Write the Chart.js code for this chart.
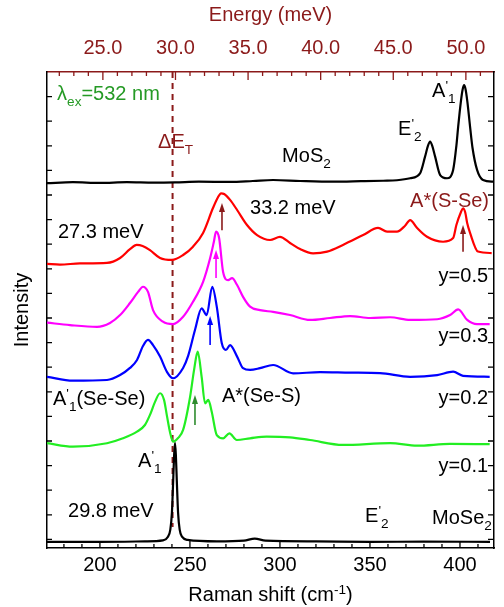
<!DOCTYPE html>
<html>
<head>
<meta charset="utf-8">
<script src="https://cdn.jsdelivr.net/npm/chart.js@4.4.0/dist/chart.umd.min.js"></script>
<style>
  html, body { margin: 0; padding: 0; background: #fff; }
  #wrap { width: 504px; height: 607px; }
</style>
</head>
<body>
<div id="wrap"><canvas id="chartRaman" width="504" height="607"></canvas></div>
<script>
// axis ranges (Raman shift in cm-1, stacked intensity in arb. units)
const X_MIN = 170.6, X_MAX = 418.9;
const Y_MIN = -0.35, Y_MAX = 19;
const CM_PER_MEV = 8.0655;
const DASH_ENERGY = 29.8; // meV, the dashed ΔE_T line

// tick labels
const shiftTicks = [200, 250, 300, 350, 400];
const energyTicks = [25, 30, 35, 40, 45, 50];

// spectra: Raman shift (cm-1) and intensity above each trace's offset
const shiftMoS2 = [170.6, 185, 200, 215, 230, 241.7, 255, 272.3, 285, 296.2, 311.2, 329.5, 345, 357.3, 365, 372.3, 377.8, 380.6, 382.2, 383.4, 384.6, 386.2, 389.0, 392.8, 396.2, 398.0, 399.0, 400.5, 401.5, 402.3, 403.1, 404.1, 405.6, 407.0, 409.5, 412.8, 418.9];
const intMoS2   = [-0.02, 0.02, -0.01, 0.02, 0.0, 0.01, 0.04, 0.03, 0.07, 0.11, 0.07, 0.04, 0.06, 0.08, 0.10, 0.18, 0.38, 1.06, 1.5, 1.67, 1.5, 1.06, 0.31, 0.18, 0.52, 1.5, 2.28, 3.3, 3.8, 3.97, 3.8, 3.3, 2.28, 1.4, 0.52, 0.11, 0.04];

const shiftY05 = [170.6, 177.8, 188.9, 203.9, 211.2, 216.7, 220.4, 223.7, 227.8, 233.4, 240.0, 246.2, 251.7, 257.3, 262.8, 265.5, 267.3, 269.0, 272.3, 276.2, 281.7, 287.3, 294.5, 300.0, 305.6, 311.2, 318.4, 326.2, 335.0, 346.2, 354.5, 359.5, 365.0, 369.5, 372.3, 376.2, 381.7, 390.6, 396.2, 398.0, 400.5, 401.7, 402.9, 404.0, 405.6, 410.0, 417.6];
const intY05   = [0.20, 0.17, 0.22, 0.24, 0.44, 0.80, 0.97, 0.93, 0.76, 0.44, 0.36, 0.56, 0.90, 1.46, 2.47, 2.9, 3.07, 3.04, 2.80, 2.39, 1.78, 1.37, 1.17, 1.30, 1.05, 0.80, 0.63, 0.70, 0.97, 1.37, 1.66, 1.51, 1.51, 1.75, 1.98, 1.66, 1.30, 1.10, 1.25, 1.78, 2.3, 2.46, 2.3, 1.86, 1.46, 0.70, 0.64];

const shiftY03 = [170.6, 183.4, 198.4, 205.6, 211.2, 216.7, 221.2, 223.9, 226.7, 229.5, 235.0, 240.6, 246.2, 251.7, 257.3, 261.2, 263.3, 264.5, 266.2, 268.4, 271.2, 273.4, 276.2, 279.5, 283.4, 288.9, 296.2, 305.6, 316.7, 327.8, 339.0, 350.1, 361.2, 372.3, 387.3, 394.5, 399.0, 404.0, 409.5, 416.5];
const intY03   = [0.21, 0.11, 0.04, 0.20, 0.52, 1.01, 1.46, 1.67, 1.46, 0.72, 0.25, 0.15, 0.45, 1.06, 1.87, 2.83, 3.5, 3.91, 3.65, 2.28, 1.94, 2.02, 1.74, 1.26, 0.86, 0.72, 0.65, 0.52, 0.32, 0.40, 0.48, 0.40, 0.43, 0.32, 0.35, 0.52, 0.75, 0.32, 0.15, 0.15];

const shiftY02 = [170.6, 185.0, 203.9, 211.2, 216.7, 220.6, 223.9, 226.7, 229.5, 233.4, 237.3, 240.6, 246.2, 249.0, 252.8, 256.5, 259.3, 262.4, 264.9, 267.7, 270.0, 272.3, 276.2, 279.5, 283.4, 288.9, 296.2, 307.3, 322.3, 339.0, 355.6, 372.3, 387.3, 396.2, 401.7, 416.5];
const intY02   = [0.11, -0.05, -0.02, 0.18, 0.47, 0.79, 1.36, 1.61, 1.40, 0.93, 0.30, 0.05, 0.47, 0.96, 2.01, 2.89, 2.62, 3.77, 2.96, 1.47, 1.20, 1.40, 0.93, 0.46, 0.39, 0.46, 0.59, 0.25, 0.30, 0.28, 0.26, 0.11, 0.18, 0.32, 0.15, 0.11];

const shiftY01 = [170.6, 185.0, 203.9, 212.8, 220.6, 225.0, 227.8, 230.6, 233.4, 235.6, 237.3, 238.9, 240.6, 243.4, 246.2, 250.1, 252.3, 254.3, 256.5, 258.4, 260.2, 262.1, 264.9, 268.5, 271.9, 276.0, 283.4, 292.6, 305.6, 316.7, 335.0, 361.2, 376.2, 394.5, 416.5];
const intY01   = [0.06, -0.08, 0.06, 0.26, 0.53, 0.80, 1.21, 1.74, 2.09, 1.82, 1.14, 0.52, 0.12, 0.27, 0.60, 1.95, 3.04, 3.78, 2.76, 1.68, 1.82, 1.34, 0.39, 0.26, 0.46, 0.19, 0.26, 0.33, 0.30, 0.19, -0.01, 0.06, -0.04, 0.03, 0.02];

const shiftMoSe2 = [170.6, 200, 225, 235, 237.7, 239.1, 240.0, 240.7, 241.2, 241.7, 242.2, 242.7, 243.4, 244.3, 245.7, 248.7, 265, 280, 286, 292, 320, 350, 380, 416.7];
const intMoSe2   = [0.0, 0.0, 0.02, 0.06, 0.2, 0.5, 1.2, 2.5, 3.5, 4.02, 3.5, 2.5, 1.2, 0.5, 0.2, 0.08, 0.02, 0.05, 0.13, 0.05, 0.02, 0.0, 0.01, 0.0];

const seriesNames   = ["MoS2", "y=0.5", "y=0.3", "y=0.2", "y=0.1", "MoSe2"];
const seriesShifts  = [shiftMoS2, shiftY05, shiftY03, shiftY02, shiftY01, shiftMoSe2];
const seriesInts    = [intMoS2, intY05, intY03, intY02, intY01, intMoSe2];
const seriesOffsets = [14.5, 11, 8.6, 6.5, 3.85, -0.1];
const seriesColors  = ["#000000", "#ff0000", "#ff00ff", "#0000ff", "#22ee22", "#000000"];

const DARK_RED = "#8b1a1a";
const TXT_GREEN = "#259a25";
const FONT = '"Liberation Sans", Arial, sans-serif';
const FS = 20;

// text labels, placed in data coordinates (shift, stacked intensity)
const notes = [
  { parts: [["λ"], ["ex", "sub"], ["=532 nm"]], x: 176.2, y: 18.15, color: TXT_GREEN },
  { parts: [["ΔE"], ["T", "sub"]], x: 232.3, y: 16.2, color: DARK_RED },
  { parts: [["MoS"], ["2", "sub"]], x: 301.2, y: 15.63 },
  { parts: [["E"], ["'", "sup"], ["2", "sub"]], x: 365.6, y: 16.72 },
  { parts: [["A"], ["'", "sup"], ["1", "sub"]], x: 384.5, y: 18.27 },
  { parts: [["33.2 meV"]], x: 283.4, y: 13.51 },
  { parts: [["27.3 meV"]], x: 176.7, y: 12.54 },
  { parts: [["A*(S-Se)"]], x: 372.3, y: 13.8, color: DARK_RED },
  { parts: [["y=0.5"]], x: 415.6, y: 10.75, align: "right" },
  { parts: [["y=0.3"]], x: 415.6, y: 8.31, align: "right" },
  { parts: [["y=0.2"]], x: 415.6, y: 5.79, align: "right" },
  { parts: [["y=0.1"]], x: 415.6, y: 3.03, align: "right" },
  { parts: [["A"], ["'", "sup"], ["1", "sub"], ["(Se-Se)"]], x: 173.9, y: 5.75 },
  { parts: [["A*(Se-S)"]], x: 267.8, y: 5.87 },
  { parts: [["A"], ["'", "sup"], ["1", "sub"]], x: 221.2, y: 3.23 },
  { parts: [["29.8 meV"]], x: 182.3, y: 1.2 },
  { parts: [["E"], ["'", "sup"], ["2", "sub"]], x: 347.3, y: 0.99 },
  { parts: [["MoSe"], ["2", "sub"]], x: 384.5, y: 0.91 }
];

// upward arrows: shift, from, to
const arrows = [
  { x: 267.8, y0: 12.57, y1: 13.67, color: DARK_RED },
  { x: 401.7, y0: 11.69, y1: 12.78, color: DARK_RED },
  { x: 264.5, y0: 10.63, y1: 11.76, color: "#ff00ff" },
  { x: 261.2, y0: 7.90, y1: 9.08, color: "#0000ff" },
  { x: 252.8, y0: 4.65, y1: 5.87, color: "#2e8b2e" }
];

function drawRich(ctx, parts, x, y, color, align) {
  const pieces = parts.map(([t, mode]) => {
    const fs = mode ? FS * 0.68 : FS;
    ctx.font = fs + "px " + FONT;
    return { t, mode, fs, w: ctx.measureText(t).width };
  });
  let total = pieces.reduce((s, p) => s + p.w, 0);
  let cx = align === "right" ? x - total : x;
  const base = y + FS * 0.36;
  ctx.fillStyle = color || "#000";
  ctx.textBaseline = "alphabetic";
  ctx.textAlign = "left";
  pieces.forEach(p => {
    ctx.font = p.fs + "px " + FONT;
    let by = base;
    if (p.mode === "sub") by = base + FS * 0.3;
    if (p.mode === "sup") by = base - FS * 0.35;
    ctx.fillText(p.t, cx, by);
    cx += p.w;
  });
}

const ramanDecor = {
  id: "ramanDecor",
  beforeDatasetsDraw(chart) {
    const { ctx, chartArea, scales } = chart;
    const xe = scales.x2.getPixelForValue(DASH_ENERGY);
    ctx.save();
    ctx.strokeStyle = DARK_RED;
    ctx.lineWidth = 2;
    ctx.setLineDash([6, 5]);
    ctx.beginPath();
    ctx.moveTo(xe, chartArea.top);
    ctx.lineTo(xe, scales.y.getPixelForValue(0.5));
    ctx.stroke();
    ctx.restore();
  },
  afterDatasetsDraw(chart) {
    const { ctx, chartArea: a, scales } = chart;
    const { x, x2, y } = scales;
    ctx.save();
    ctx.lineWidth = 1.3;

    // inward ticks: bottom
    ctx.strokeStyle = "#000";
    ctx.beginPath();
    for (let v = 180; v <= X_MAX; v += 10) {
      const px = x.getPixelForValue(v);
      const len = v % 50 === 0 ? 7 : 4;
      ctx.moveTo(px, a.bottom); ctx.lineTo(px, a.bottom - len);
    }
    // left and right
    for (let v = 0; v < Y_MAX; v += 1) {
      const py = y.getPixelForValue(v);
      ctx.moveTo(a.left, py); ctx.lineTo(a.left + 5, py);
      ctx.moveTo(a.right, py); ctx.lineTo(a.right - 6, py);
    }
    ctx.stroke();
    // top (energy)
    ctx.strokeStyle = DARK_RED;
    ctx.beginPath();
    for (let e = 22; e <= X_MAX / CM_PER_MEV; e += 1) {
      const px = x2.getPixelForValue(e);
      const len = e % 5 === 0 ? 8 : 4;
      ctx.moveTo(px, a.top); ctx.lineTo(px, a.top + len);
    }
    ctx.stroke();

    // arrows
    arrows.forEach(ar => {
      const px = x.getPixelForValue(ar.x);
      const p0 = y.getPixelForValue(ar.y0);
      const p1 = y.getPixelForValue(ar.y1);
      ctx.strokeStyle = ar.color;
      ctx.fillStyle = ar.color;
      ctx.lineWidth = 1.6;
      ctx.beginPath();
      ctx.moveTo(px, p0); ctx.lineTo(px, p1 + 6);
      ctx.stroke();
      ctx.beginPath();
      ctx.moveTo(px, p1); ctx.lineTo(px - 3, p1 + 9); ctx.lineTo(px + 3, p1 + 9);
      ctx.closePath(); ctx.fill();
    });

    // labels
    notes.forEach(n => {
      drawRich(ctx, n.parts, x.getPixelForValue(n.x), y.getPixelForValue(n.y), n.color, n.align);
    });

    // bottom axis title with superscript
    const title = [["Raman shift (cm"], ["-1", "sup"], [")"]];
    ctx.font = FS + "px " + FONT;
    const w1 = ctx.measureText("Raman shift (cm").width + ctx.measureText(")").width;
    ctx.font = (FS * 0.68) + "px " + FONT;
    const w2 = ctx.measureText("-1").width;
    drawRich(ctx, title, (a.left + a.right) / 2 - (w1 + w2) / 2, 594, "#000");
    ctx.restore();
  }
};

const datasets = seriesNames.map((name, i) => ({
  label: name,
  data: seriesShifts[i].map((s, k) => ({ x: s, y: seriesInts[i][k] + seriesOffsets[i] })),
  borderColor: seriesColors[i],
  borderWidth: 2.2,
  pointRadius: 0,
  fill: false,
  cubicInterpolationMode: "monotone"
}));

Chart.defaults.font.family = FONT;
Chart.defaults.font.size = FS;
Chart.defaults.color = "#000";

new Chart(document.getElementById("chartRaman"), {
  type: "line",
  data: { datasets },
  options: {
    responsive: false,
    devicePixelRatio: 1,
    animation: false,
    layout: { padding: 0 },
    plugins: { legend: { display: false }, tooltip: { enabled: false } },
    scales: {
      x: {
        type: "linear", position: "bottom", min: X_MIN, max: X_MAX,
        grid: { drawOnChartArea: false, drawTicks: false },
        border: { color: "#000", width: 1.5 },
        ticks: { padding: 5, maxRotation: 0, autoSkip: false },
        afterBuildTicks: s => { s.ticks = shiftTicks.map(v => ({ value: v })); },
        afterFit: s => { s.height = 59; }
      },
      x2: {
        type: "linear", position: "top", min: X_MIN / CM_PER_MEV, max: X_MAX / CM_PER_MEV,
        grid: { drawOnChartArea: false, drawTicks: false },
        border: { color: DARK_RED, width: 1.5 },
        ticks: { padding: 12, color: DARK_RED, maxRotation: 0, autoSkip: false,
                 callback: v => v.toFixed(1) },
        afterBuildTicks: s => { s.ticks = energyTicks.map(v => ({ value: v })); },
        title: { display: true, text: "Energy (meV)", color: DARK_RED, padding: { top: 3, bottom: 0 } },
        afterFit: s => { s.height = 72; }
      },
      y: {
        type: "linear", position: "left", min: Y_MIN, max: Y_MAX,
        grid: { drawOnChartArea: false, drawTicks: false },
        border: { color: "#000", width: 1.5 },
        ticks: { display: false },
        title: { display: true, text: "Intensity", padding: { top: 10, bottom: 0 } },
        afterFit: s => { s.width = 47; }
      },
      y2: {
        type: "linear", position: "right", min: Y_MIN, max: Y_MAX,
        grid: { drawOnChartArea: false, drawTicks: false },
        border: { color: "#000", width: 1.5 },
        ticks: { display: false },
        afterFit: s => { s.width = 10; }
      }
    }
  },
  plugins: [ramanDecor]
});
</script>
</body>
</html>
